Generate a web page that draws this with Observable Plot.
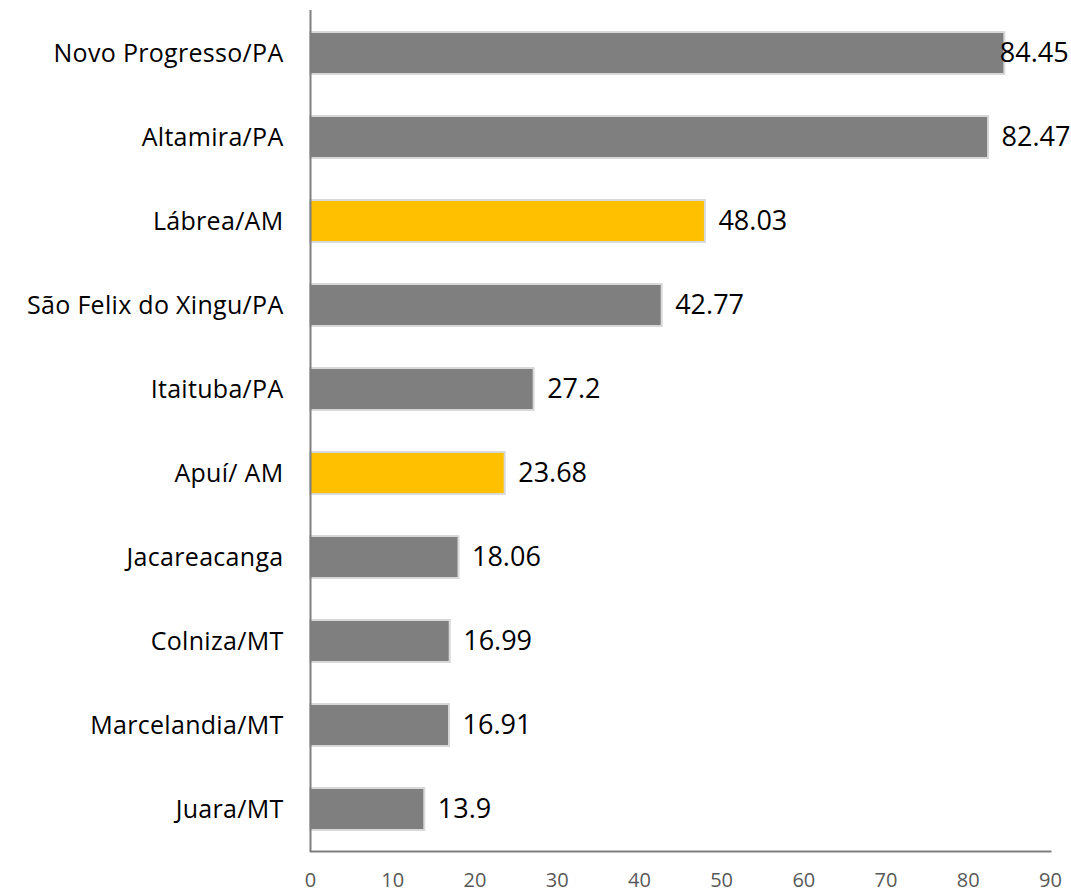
<!DOCTYPE html>
<html>
<head>
<meta charset="utf-8">
<script src="https://cdn.jsdelivr.net/npm/d3@7"></script>
<script src="https://cdn.jsdelivr.net/npm/@observablehq/plot@0.6"></script>
<style>
  html, body { margin: 0; padding: 0; background: white; }
  #wrap { position: relative; width: 1071px; height: 892px; }
  #stray { position: absolute; left: 0; top: 749px; width: 19px; height: 2px; background: #7f7f7f; }
  .ylab text { letter-spacing: 0.3px; }
</style>
</head>
<body>
<div id="wrap"><div id="stray"></div></div>
<script>
const municipios = ["Novo Progresso/PA", "Altamira/PA", "Lábrea/AM", "São Felix do Xingu/PA", "Itaituba/PA", "Apuí/ AM", "Jacareacanga", "Colniza/MT", "Marcelandia/MT", "Juara/MT"];
const valores = [84.45, 82.47, 48.03, 42.77, 27.2, 23.68, 18.06, 16.99, 16.91, 13.9];
const destaque = [false, false, true, false, false, true, false, false, false, false];
const xTicks = [0, 10, 20, 30, 40, 50, 60, 70, 80, 90];

const data = municipios.map((m, i) => ({municipio: m, valor: valores[i], destaque: destaque[i]}));
const maxValor = d3.max(valores);

const chart = Plot.plot({
  width: 1071,
  height: 892,
  marginLeft: 310,
  marginRight: 21,
  marginTop: 10,
  marginBottom: 41,
  style: {fontFamily: "'Open Sans', sans-serif", background: "white", overflow: "visible"},
  x: {domain: [0, 90], label: null},
  y: {domain: municipios, paddingInner: 0.5, paddingOuter: 0.25, label: null},
  color: {domain: [false, true], range: ["#7f7f7f", "#ffc000"]},
  marks: [
    Plot.barX(data, {x: "valor", y: "municipio", fill: "destaque", stroke: "#d9d9d9", strokeWidth: 2}),
    Plot.ruleX([0], {stroke: "#7f7f7f", strokeWidth: 2}),
    Plot.frame({anchor: "bottom", stroke: "#7f7f7f", strokeWidth: 2}),
    Plot.axisY({tickSize: 0, tickPadding: 27, fontSize: 25, fill: "#000", label: null, className: "ylab"}),
    Plot.axisX({ticks: xTicks, tickSize: 0, tickPadding: 21, fontSize: 20, fill: "#595959", label: null}),
    Plot.text(data.filter(d => d.valor < maxValor), {x: "valor", y: "municipio", text: d => String(d.valor), dx: 13, textAnchor: "start", fontSize: 27, fill: "#000"}),
    Plot.text(data.filter(d => d.valor === maxValor), {x: "valor", y: "municipio", text: d => String(d.valor), dx: -5, textAnchor: "start", fontSize: 27, fill: "#000"})
  ]
});
document.getElementById("wrap").appendChild(chart);
chart.style.position = "absolute";
chart.style.left = "0";
chart.style.top = "0";
</script>
</body>
</html>
